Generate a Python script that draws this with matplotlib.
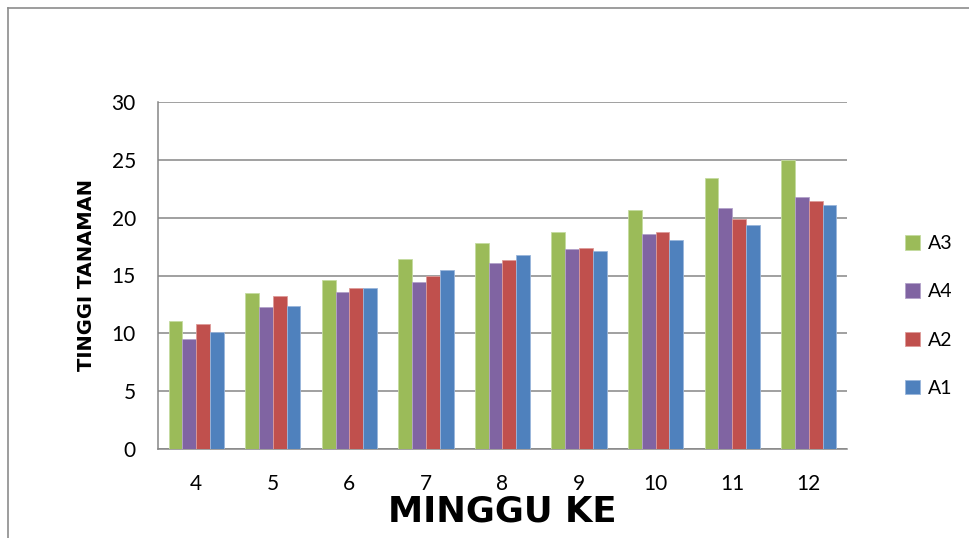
import numpy as np
import matplotlib.pyplot as plt
from matplotlib.lines import Line2D

weeks = ["4", "5", "6", "7", "8", "9", "10", "11", "12"]
a3 = [11.1, 13.5, 14.6, 16.4, 17.8, 18.8, 20.7, 23.4, 25.0]
a4 = [9.5, 12.3, 13.6, 14.4, 16.1, 17.3, 18.6, 20.8, 21.8]
a2 = [10.8, 13.2, 13.9, 15.0, 16.3, 17.4, 18.8, 19.9, 21.4]
a1 = [10.1, 12.4, 13.9, 15.5, 16.8, 17.1, 18.1, 19.4, 21.1]
y_ticks = [0, 5, 10, 15, 20, 25, 30]

series = [("A3", a3, "#9BBB59", "#c4dba0"),
          ("A4", a4, "#8064A2", "#b3a2c9"),
          ("A2", a2, "#C0504D", "#dd9a98"),
          ("A1", a1, "#4F81BD", "#9ab6db")]

fig = plt.figure(figsize=(9.7, 5.38), dpi=100)
ax = fig.add_axes([158 / 970, 1 - 449 / 538, 689 / 970, 347 / 538])

x = np.arange(len(weeks))
bw = 0.18
for i, (name, vals, col, edge) in enumerate(series):
    ax.bar(x + (i - 1.5) * bw, vals, width=bw, color=col, edgecolor=edge,
           linewidth=0.6, label=name, zorder=3)

grid_col = "#868686"
ax.set_xlim(-0.5, len(weeks) - 0.5)
ax.set_ylim(0, 30)
ax.set_yticks(y_ticks)
ax.yaxis.grid(True, color=grid_col, linewidth=1.1, zorder=1)
ax.set_axisbelow(True)
for side in ("top", "right"):
    ax.spines[side].set_visible(False)
for side in ("left", "bottom"):
    ax.spines[side].set_color(grid_col)
    ax.spines[side].set_linewidth(1.1)

ax.set_xticks(x)
ax.set_xticklabels(weeks)
ax.tick_params(axis="both", length=0, labelsize=15)
ax.tick_params(axis="x", pad=18)
ax.tick_params(axis="y", pad=16)
for lab in ax.get_xticklabels() + ax.get_yticklabels():
    lab.set_family("Lato")

# x axis title sits on its own baseline just below the week numbers
fig.text(502.5 / 970, 1 - 522 / 538, "MINGGU KE", family="DejaVu Sans",
         fontsize=25.5, fontweight="bold", ha="center", va="baseline")
ax.set_ylabel("TINGGI TANAMAN", family="DejaVu Sans", fontsize=14,
              fontweight="bold", labelpad=11)

leg = ax.legend(loc="center left", bbox_to_anchor=(905 / 970, 1 - 316 / 538),
                bbox_transform=fig.transFigure, frameon=False,
                prop={"family": "Lato", "size": 14}, labelspacing=1.6,
                handlelength=0.78, handleheight=0.78, handletextpad=0.4,
                borderpad=0, borderaxespad=0)

# chart area border (top and left edges)
border = "#8c8c8c"
fig.add_artist(Line2D([8 / 970, 1], [1 - 8 / 538, 1 - 8 / 538],
                      transform=fig.transFigure, color=border, lw=1.2))
fig.add_artist(Line2D([8 / 970, 8 / 970], [0, 1 - 8 / 538],
                      transform=fig.transFigure, color=border, lw=1.2))

fig.savefig("out.png", dpi=100)
